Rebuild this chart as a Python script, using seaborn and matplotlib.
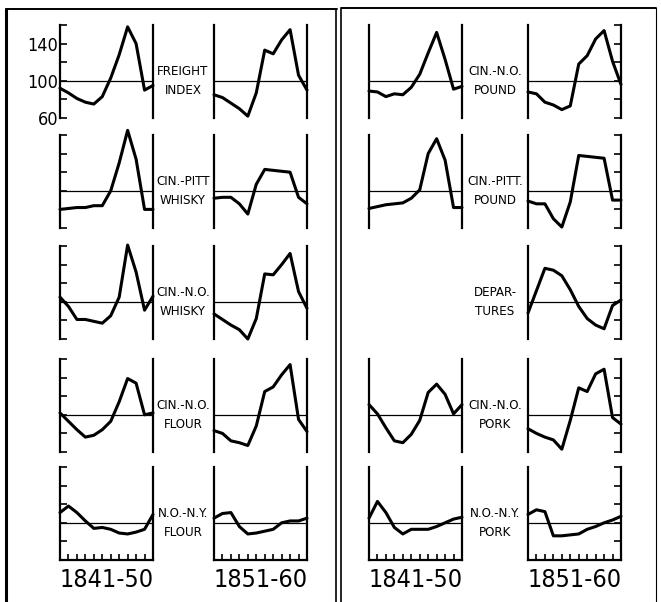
import matplotlib
matplotlib.use("Agg")
import matplotlib.pyplot as plt
import seaborn as sns
from matplotlib.lines import Line2D

# ---------------- data (seasonal index, monthly, 100 = average) ----------------
months = list(range(12))
periods = ["1841-50", "1851-60"]

left_labels = ["FREIGHT\nINDEX", "CIN.-PITT\nWHISKY", "CIN.-N.O.\nWHISKY", "CIN.-N.O.\nFLOUR", "N.O.-N.Y.\nFLOUR"]
right_labels = ["CIN.-N.O.\nPOUND", "CIN.-PITT.\nPOUND", "DEPAR-\nTURES", "CIN.-N.O.\nPORK", "N.O.-N.Y.\nPORK"]

freight_41 = [92, 87, 81, 77, 75, 83, 103, 128, 158, 140, 90, 95]
freight_51 = [85, 82, 76, 70, 62, 87, 133, 129, 144, 155, 106, 90]
cp_whisky_41 = [80, 81, 82, 82, 84, 84, 100, 130, 165, 134, 80, 80]
cp_whisky_51 = [92, 93, 93, 86, 75, 107, 123, 122, 121, 120, 93, 86]
cn_whisky_41 = [105, 95, 81, 81, 79, 77, 85, 105, 161, 132, 91, 106]
cn_whisky_51 = [87, 81, 75, 70, 60, 82, 130, 129, 140, 152, 111, 93]
cn_flour_41 = [102, 93, 84, 76, 78, 84, 93, 114, 139, 134, 100, 102]
cn_flour_51 = [83, 80, 72, 70, 67, 88, 125, 130, 143, 154, 95, 82]
nn_flour_41 = [111, 118, 111, 102, 94, 95, 93, 89, 88, 90, 93, 109]
nn_flour_51 = [105, 110, 111, 96, 88, 89, 91, 93, 100, 102, 102, 105]

cn_pound_41 = [89, 88, 83, 86, 85, 93, 107, 130, 152, 123, 91, 94]
cn_pound_51 = [88, 86, 77, 74, 69, 73, 118, 127, 145, 154, 121, 96]
cp_pound_41 = [81, 83, 85, 86, 87, 92, 101, 140, 156, 133, 82, 82]
cp_pound_51 = [89, 86, 86, 70, 61, 88, 138, 137, 136, 135, 90, 90]
departures_41 = None
departures_51 = [88, 112, 136, 134, 128, 113, 95, 82, 75, 71, 96, 102]
cn_pork_41 = [111, 101, 86, 72, 70, 79, 94, 124, 133, 122, 101, 111]
cn_pork_51 = [85, 80, 76, 73, 63, 94, 129, 125, 144, 149, 97, 90]
nn_pork_41 = [105, 123, 111, 95, 88, 93, 93, 93, 96, 100, 104, 106]
nn_pork_51 = [109, 114, 112, 86, 86, 87, 88, 93, 96, 100, 103, 107]

left_series = [(freight_41, freight_51), (cp_whisky_41, cp_whisky_51),
               (cn_whisky_41, cn_whisky_51), (cn_flour_41, cn_flour_51),
               (nn_flour_41, nn_flour_51)]
right_series = [(cn_pound_41, cn_pound_51), (cp_pound_41, cp_pound_51),
                (departures_41, departures_51), (cn_pork_41, cn_pork_51),
                (nn_pork_41, nn_pork_51)]

ytick_vals = [60, 80, 100, 120, 140, 160]
ytick_labels = ["60", "", "100", "", "140", ""]

# ---------------- style ----------------
sns.set_theme(style="white")
FONT = ["DejaVu Sans"]
plt.rcParams["font.family"] = FONT
plt.rcParams["font.stretch"] = "condensed"

W, H = 661, 602
fig = plt.figure(figsize=(W / 100, H / 100), dpi=100)
fig.patch.set_facecolor("white")

def px_axes(x0, y0, w, h):
    return fig.add_axes([x0 / W, 1 - (y0 + h) / H, w / W, h / H])

row_tops = [25, 135, 246, 359, 467]
PH = 93
PW = 93
cols = {
    "left": dict(x41=60, x51=214, labx=183, series=left_series, labels=left_labels, tickside="x41"),
    "right": dict(x41=369, x51=528, labx=495, series=right_series, labels=right_labels, tickside="x51"),
}

for side, c in cols.items():
    for r, top in enumerate(row_tops):
        s41, s51 = c["series"][r]
        for key, vals in (("x41", s41), ("x51", s51)):
            if vals is None:
                continue
            ax = px_axes(c[key], top, PW, PH)
            ax.set_facecolor("none")
            ax.axhline(100, color="black", lw=0.9, zorder=1)
            sns.lineplot(x=months, y=vals, ax=ax, color="black", lw=2.2,
                         clip_on=False, zorder=3)
            ax.set_xlim(0, 11)
            ax.set_ylim(60, 160)
            ax.set_xlabel("")
            ax.set_ylabel("")
            for sp in ("left", "right"):
                ax.spines[sp].set_visible(True)
                ax.spines[sp].set_color("black")
                ax.spines[sp].set_linewidth(1.6)
            ax.spines["top"].set_visible(False)
            if r == 4:
                ax.spines["bottom"].set_visible(True)
                ax.spines["bottom"].set_color("black")
                ax.spines["bottom"].set_linewidth(1.6)
                ax.set_xticks(months)
                ax.tick_params(axis="x", direction="in", length=4, width=1.2,
                               colors="black", labelbottom=False, bottom=True)
            else:
                ax.spines["bottom"].set_visible(False)
                ax.set_xticks([])
            if key == c["tickside"]:
                ax.set_yticks(ytick_vals)
                if side == "left":
                    ax.tick_params(axis="y", direction="in", length=5, width=1.2,
                                   colors="black", left=True, right=False,
                                   labelleft=(r == 0), labelright=False,
                                   labelsize=13, pad=1)
                    if r == 0:
                        ax.set_yticklabels(ytick_labels, fontstretch="condensed")
                else:
                    ax.tick_params(axis="y", direction="in", length=5, width=1.2,
                                   colors="black", left=False, right=True,
                                   labelleft=False, labelright=False)
            else:
                ax.set_yticks([])
        # middle label, centred on the 100 line
        ymid = top + PH * 0.6
        fig.text(c["labx"] / W, 1 - ymid / H, c["labels"][r], ha="center",
                 va="center", fontsize=9.5, color="black", linespacing=1.6,
                 family=FONT, fontstretch="condensed")
    # period labels
    fig.text((c["x41"] + PW / 2) / W, 1 - 580 / H, periods[0], ha="center",
             va="center", fontsize=18, color="black", family=FONT,
             fontstretch="condensed")
    fig.text((c["x51"] + PW / 2) / W, 1 - 580 / H, periods[1], ha="center",
             va="center", fontsize=18, color="black", family=FONT,
             fontstretch="condensed")

# ---------------- frames ----------------
def fline(xs, ys, lw):
    fig.add_artist(Line2D([x / W for x in xs], [1 - y / H for y in ys],
                          color="black", lw=lw, transform=fig.transFigure))

fline([6, 6], [9, 602], 2.2)
fline([6, 337], [9, 9], 1.4)
fline([336, 336], [9, 602], 1.2)
fline([341, 341], [9, 602], 1.2)
fline([341, 656], [8, 8], 1.4)
fline([656, 656], [8, 602], 0.8)

fig.savefig("out.png", dpi=100, facecolor="white")
